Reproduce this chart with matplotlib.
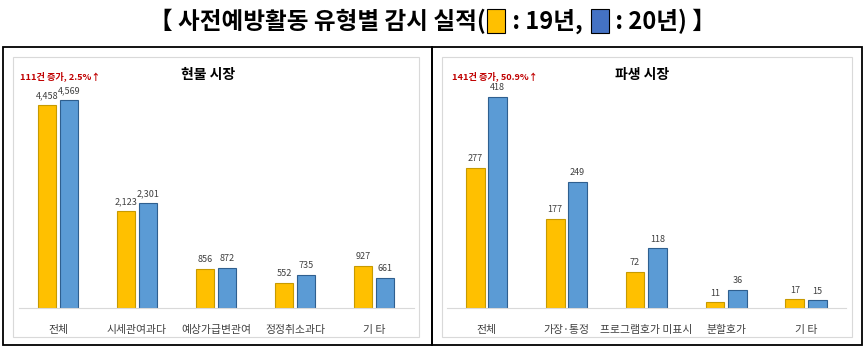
import matplotlib
matplotlib.use("Agg")
import matplotlib.pyplot as plt
from matplotlib.patches import Rectangle
import numpy as np

plt.rcParams['font.family'] = ['Noto Sans CJK KR', 'DejaVu Sans']

spot_cats = ['전체', '시세관여과다', '예상가급변관여', '정정취소과다', '기 타']
spot_19 = [4458, 2123, 856, 552, 927]
spot_20 = [4569, 2301, 872, 735, 661]
spot_title = '현물 시장'
spot_note = '111건 증가, 2.5%↑'

deriv_cats = ['전체', '가장·통정', '프로그램호가 미표시', '분할호가', '기 타']
deriv_19 = [277, 177, 72, 11, 17]
deriv_20 = [418, 249, 118, 36, 15]
deriv_title = '파생 시장'
deriv_note = '141건 증가, 50.9%↑'

W, H = 865, 352
fig = plt.figure(figsize=(W / 100, H / 100), dpi=100)
fig.patch.set_facecolor('white')

def fx(px):
    return px / W

def fy(py):
    return 1 - py / H

YEL = '#FFC000'
YEL_E = '#C79A00'
BLU = '#5B9BD5'
BLU_E = '#2F5F8F'

# outer black frames
for x0, x1 in [(3, 432), (432, 862)]:
    fig.add_artist(Rectangle((fx(x0), fy(345)), fx(x1) - fx(x0), fy(47) - fy(345),
                             transform=fig.transFigure, fill=False, ec='black', lw=1.3))
# inner light frames
for x0, x1 in [(13, 419), (442, 852)]:
    fig.add_artist(Rectangle((fx(x0), fy(337)), fx(x1) - fx(x0), fy(57) - fy(337),
                             transform=fig.transFigure, fill=False, ec='#D9D9D9', lw=0.8))

def panel(left_px, right_px, cats, v19, v20, ymax, title, note, note_x, title_x):
    ax = fig.add_axes([fx(left_px), fy(308), fx(right_px) - fx(left_px), fy(90) - fy(308)])
    x = np.arange(len(cats))
    w = 0.235
    off = 0.14
    ax.bar(x - off, v19, w, color=YEL, edgecolor=YEL_E, linewidth=0.8)
    ax.bar(x + off, v20, w, color=BLU, edgecolor=BLU_E, linewidth=0.8)
    ax.set_xlim(-0.5, len(cats) - 0.5)
    ax.set_ylim(0, ymax)
    for s in ['top', 'right', 'left']:
        ax.spines[s].set_visible(False)
    ax.spines['bottom'].set_color('#D9D9D9')
    ax.spines['bottom'].set_linewidth(0.8)
    ax.set_yticks([])
    ax.set_xticks(x)
    ax.set_xticklabels(cats, fontsize=7.8, color='#404040')
    ax.tick_params(axis='x', length=0, pad=12)
    ax.patch.set_alpha(0)
    for xi, a, b in zip(x, v19, v20):
        ax.annotate(f'{a:,}', (xi - off, a), xytext=(0, 3.5), textcoords='offset points',
                    ha='center', va='bottom', fontsize=6.5, color='#404040')
        ax.annotate(f'{b:,}', (xi + off, b), xytext=(0, 3.5), textcoords='offset points',
                    ha='center', va='bottom', fontsize=6.5, color='#404040')
    fig.text(fx(title_x), fy(75), title, ha='center', va='center', fontsize=10,
             fontweight='bold', color='black')
    fig.text(fx(note_x), fy(76), note, ha='left', va='center', fontsize=6.6,
             fontweight='bold', color='#C00000')
    return ax

panel(18.5, 413.5, spot_cats, spot_19, spot_20, 4787, spot_title, spot_note, 20, 208)
panel(446.5, 846, deriv_cats, deriv_19, deriv_20, 432, deriv_title, deriv_note, 452, 642)

# main title with colour squares
renderer = fig.canvas.get_renderer()
pieces = ['【 사전예방활동 유형별 감시 실적(', YEL, ' : 19년, ', '#4472C4', ' : 20년) 】']
ty = fy(21)
fs = 17
sq_w = 18
widths = []
for p in pieces:
    if p.startswith('#'):
        widths.append(sq_w + 4)
    else:
        t = fig.text(0, 0, p, fontsize=fs, fontweight='bold')
        bb = t.get_window_extent(renderer)
        widths.append(bb.width)
        t.remove()
xcur = (W - sum(widths)) / 2
for p, wdt in zip(pieces, widths):
    if p.startswith('#'):
        fig.add_artist(Rectangle((fx(xcur + 2), fy(33)), fx(sq_w), fy(9) - fy(33),
                                 transform=fig.transFigure, fc=p, ec='black', lw=0.8))
    else:
        fig.text(fx(xcur), ty, p, fontsize=fs, fontweight='bold', ha='left', va='center')
    xcur += wdt

fig.savefig('out.png', dpi=100, facecolor='white')
